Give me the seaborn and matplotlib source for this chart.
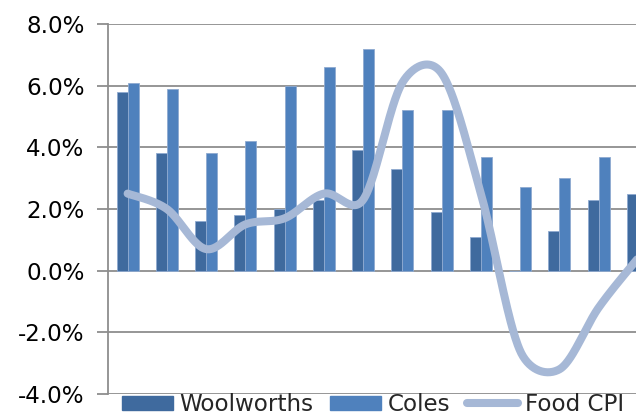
import numpy as np
import pandas as pd
import matplotlib
matplotlib.use("Agg")
import matplotlib.pyplot as plt
import seaborn as sns
from matplotlib.patches import Patch
from matplotlib.lines import Line2D

periods = [f"P{i+1}" for i in range(14)]
woolworths = [5.8, 3.8, 1.6, 1.8, 2.0, 2.3, 3.9, 3.3, 1.9, 1.1, 0.0, 1.3, 2.3, 2.5]
coles = [6.1, 5.9, 3.8, 4.2, 6.0, 6.6, 7.2, 5.2, 5.2, 3.7, 2.7, 3.0, 3.7, np.nan]
food_cpi = [2.5, 2.0, 0.7, 1.5, 1.7, 2.5, 2.3, 6.1, 6.4, 2.5, -2.6, -3.2, -1.2, 0.4]
y_ticks = [-4, -2, 0, 2, 4, 6, 8]
series_names = ["Woolworths", "Coles", "Food CPI"]

c_wool = "#3F6A9E"
c_coles = "#4F81BD"
c_cpi = "#A6B8D6"
c_grid = "#8E8E8E"
FS = 16.6

sns.set_theme(style="white")
plt.rcParams["font.family"] = ["DejaVu Sans"]

df = pd.DataFrame({
    "period": periods * 2,
    "value": woolworths + coles,
    "series": [series_names[0]] * len(periods) + [series_names[1]] * len(periods),
})

fig = plt.figure(figsize=(6.36, 4.13), dpi=100)
ax = fig.add_axes([108 / 636, 1 - 394 / 413, 1 - 108 / 636, (394 - 24) / 413])

sns.barplot(data=df, x="period", y="value", hue="series", order=periods,
            hue_order=series_names[:2], palette=[c_wool, c_coles], saturation=1,
            width=0.56, gap=0, ax=ax, legend=False, errorbar=None,
            edgecolor="#8FAAD0", linewidth=0.6, zorder=2)

ax.set_ylim(-4, 8)
ax.set_xlim(-0.5, -0.5 + 528 / 39.25)

# Spreadsheet-style smoothed line: Bezier segments with control points
# computed in display space (control length capped at half the segment).
xs = np.arange(len(food_cpi), dtype=float)
ys = np.array(food_cpi, dtype=float)
pts = ax.transData.transform(np.column_stack([xs, ys]))
n = len(pts)
curve = []
for i in range(n - 1):
    p0 = pts[max(i - 1, 0)]
    p1 = pts[i]
    p2 = pts[i + 1]
    p3 = pts[min(i + 2, n - 1)]
    d12 = np.linalg.norm(p2 - p1)
    d02 = np.linalg.norm(p2 - p0)
    d13 = np.linalg.norm(p3 - p1)
    f0 = 1 / 6
    f1 = 1 / 6
    if d02 / 6 >= d12 / 2 and d02 > 0:
        f0 = d12 / d02 / 2
    if d13 / 6 >= d12 / 2 and d13 > 0:
        f1 = d12 / d13 / 2
    c1 = p1 + (p2 - p0) * f0
    c2 = p2 - (p3 - p1) * f1
    t = np.linspace(0, 1, 50)[:, None]
    seg = (1 - t) ** 3 * p1 + 3 * (1 - t) ** 2 * t * c1 + 3 * (1 - t) * t ** 2 * c2 + t ** 3 * p2
    curve.append(seg if i == 0 else seg[1:])
curve = ax.transData.inverted().transform(np.vstack(curve))
ax.plot(curve[:, 0], curve[:, 1], color=c_cpi, lw=5.8, solid_capstyle="round", zorder=3)

ax.set_yticks(y_ticks)
ax.set_yticklabels([f"{v:.1f}%" for v in y_ticks])
ax.set_xticks([])
ax.set_xlabel("")
ax.set_ylabel("")
ax.yaxis.grid(True, color=c_grid, lw=1.3, zorder=0)
ax.set_axisbelow(True)
for s in ["top", "right", "bottom"]:
    ax.spines[s].set_visible(False)
ax.spines["left"].set_color(c_grid)
ax.spines["left"].set_linewidth(1.3)
ax.tick_params(axis="y", which="both", left=True, length=8, width=1.3, color=c_grid,
               pad=9, labelsize=FS, labelcolor="black")

handles = [Patch(facecolor=c_wool, edgecolor=c_wool),
           Patch(facecolor=c_coles, edgecolor=c_coles),
           Line2D([0], [0], color=c_cpi, lw=5.8, solid_capstyle="round")]
fig.legend(handles, series_names, loc="center left", ncol=3,
           bbox_to_anchor=(122 / 636, 1 - 404.5 / 413), frameon=False,
           fontsize=FS, handlelength=2.2, handleheight=0.55,
           handletextpad=0.28, columnspacing=0.75, borderpad=0, borderaxespad=0)

fig.savefig("out.png", dpi=100)
